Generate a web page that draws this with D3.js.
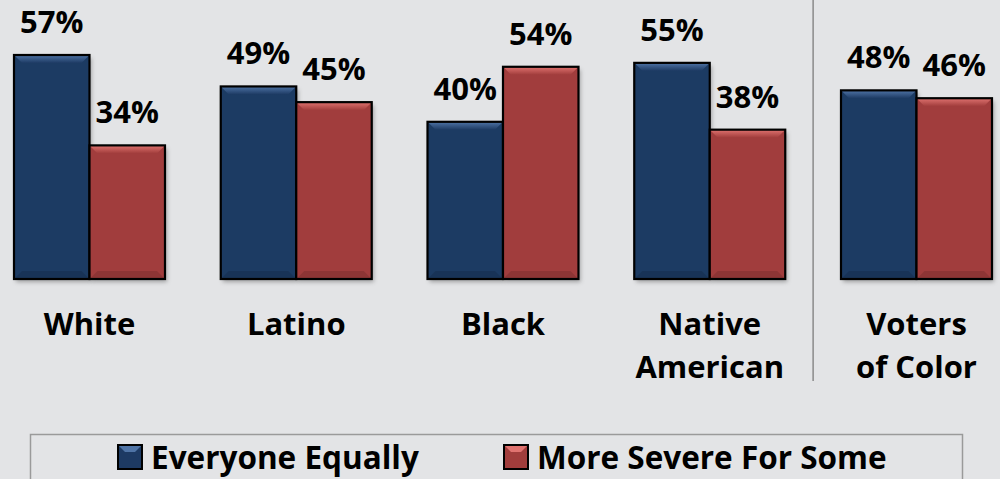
<!DOCTYPE html>
<html>
<head>
<meta charset="utf-8">
<script src="https://cdn.jsdelivr.net/npm/d3@7"></script>
<style>
  html, body { margin: 0; padding: 0; background: #e3e4e6; }
  text { font-family: "Open Sans", "Noto Sans", sans-serif; font-weight: 700; fill: #000; }
</style>
</head>
<body>
<div class="chart-container"></div>
<script>
//! DATA
const categories = [['White'], ['Latino'], ['Black'], ['Native', 'American'], ['Voters', 'of Color']]
const seriesNames = ['Everyone Equally', 'More Severe For Some']
const everyoneEqually = [57, 49, 40, 55, 48]
const moreSevere = [34, 45, 54, 38, 46]

//! CONSTS
const width = 1000
const height = 479
const baseY = 279
const colors = ['#1d3a63', '#a13d3c']
const lightColors = ['#4f74a6', '#e07370']

const svg = d3.select('.chart-container')
  .append('svg')
  .attr('width', width)
  .attr('height', height)

const rows = categories.map((c, i) => ({
  key: c.join(' '),
  lines: c,
  values: [everyoneEqually[i], moreSevere[i]]
}))

//! SCALES
const x0 = d3.scaleBand()
  .domain(rows.map(d => d.key))
  .range([-13.88, 1019.87])
  .paddingInner(0.2697)
  .paddingOuter(0.2697 / 2)

const x1 = d3.scaleBand()
  .domain([0, 1])
  .range([0, x0.bandwidth()])

const y = d3.scaleLinear()
  .domain([0, 57])
  .range([baseY, 55])

// gradients for bevel
const defs = svg.append('defs')
colors.forEach((c, i) => {
  const g = defs.append('linearGradient')
    .attr('id', 'bev' + i)
    .attr('x1', 0).attr('y1', 0).attr('x2', 0).attr('y2', 1)
  g.append('stop').attr('offset', 0).attr('stop-color', lightColors[i])
  g.append('stop').attr('offset', 1).attr('stop-color', c)
})
const f = defs.append('filter').attr('id', 'shadow')
  .attr('x', '-10%').attr('y', '-10%').attr('width', '130%').attr('height', '130%')
f.append('feDropShadow')
  .attr('dx', 2).attr('dy', 3).attr('stdDeviation', 2)
  .attr('flood-color', '#000').attr('flood-opacity', 0.3)

//! BARS
const groups = svg.selectAll('g.group')
  .data(rows)
  .enter()
  .append('g')
  .attr('class', 'group')
  .attr('transform', d => `translate(${x0(d.key)},0)`)

const bars = groups.selectAll('g.bar')
  .data(d => d.values.map((v, i) => ({ v, i })))
  .enter()
  .append('g')
  .attr('class', 'bar')

bars.append('rect')
  .attr('x', d => x1(d.i))
  .attr('y', d => y(d.v))
  .attr('width', x1.bandwidth())
  .attr('height', d => baseY - y(d.v))
  .attr('fill', d => colors[d.i])
  .attr('filter', 'url(#shadow)')

// top bevel
const bev = 8
bars.append('path')
  .attr('d', d => {
    const l = x1(d.i), r = l + x1.bandwidth(), t = y(d.v)
    return `M${l},${t}L${r},${t}L${r - bev},${t + bev}L${l + bev},${t + bev}Z`
  })
  .attr('fill', d => `url(#bev${d.i})`)

// bottom bevel
bars.append('path')
  .attr('d', d => {
    const l = x1(d.i), r = l + x1.bandwidth()
    return `M${l},${baseY}L${l + bev},${baseY - bev}L${r - bev},${baseY - bev}L${r},${baseY}Z`
  })
  .attr('fill', '#000')
  .attr('opacity', 0.12)

bars.append('rect')
  .attr('x', d => x1(d.i))
  .attr('y', d => y(d.v))
  .attr('width', x1.bandwidth())
  .attr('height', d => baseY - y(d.v))
  .attr('fill', 'none')
  .attr('stroke', '#000')
  .attr('stroke-width', 2.2)

//! VALUE LABELS
bars.append('text')
  .attr('x', d => x1(d.i) + x1.bandwidth() / 2)
  .attr('y', d => y(d.v) - 22)
  .attr('text-anchor', 'middle')
  .style('font-size', '31px')
  .text(d => d.v + '%')

//! CATEGORY LABELS
groups.append('text')
  .attr('x', x0.bandwidth() / 2)
  .attr('y', 335)
  .attr('text-anchor', 'middle')
  .style('font-size', '31px')
  .selectAll('tspan')
  .data(d => d.lines)
  .enter()
  .append('tspan')
  .attr('x', x0.bandwidth() / 2)
  .attr('dy', (d, i) => i === 0 ? 0 : 43)
  .text(d => d)

//! SEPARATOR
const sepX = (x0('Native American') + x0.bandwidth() + x0('Voters of Color')) / 2
svg.append('line')
  .attr('x1', sepX).attr('x2', sepX)
  .attr('y1', 0).attr('y2', 381)
  .attr('stroke', '#8a8a8a')
  .attr('stroke-width', 1.5)

//! LEGEND
svg.append('rect')
  .attr('x', 30.5).attr('y', 434.5)
  .attr('width', 932).attr('height', 80)
  .attr('fill', 'none')
  .attr('stroke', '#9a9a9a')
  .attr('stroke-width', 1.5)

const legendX = [118, 504]
const legend = svg.selectAll('g.legend')
  .data(seriesNames)
  .enter()
  .append('g')
  .attr('class', 'legend')
  .attr('transform', (d, i) => `translate(${legendX[i]},445)`)

legend.append('rect')
  .attr('width', 24).attr('height', 24)
  .attr('fill', (d, i) => colors[i])
legend.append('path')
  .attr('d', 'M0,0L24,0L17,7L7,7Z')
  .attr('fill', (d, i) => lightColors[i])
legend.append('rect')
  .attr('width', 24).attr('height', 24)
  .attr('fill', 'none')
  .attr('stroke', '#000')
  .attr('stroke-width', 2)

legend.append('text')
  .attr('x', 33)
  .attr('y', 24)
  .style('font-size', '31.5px')
  .text(d => d)
</script>
</body>
</html>
